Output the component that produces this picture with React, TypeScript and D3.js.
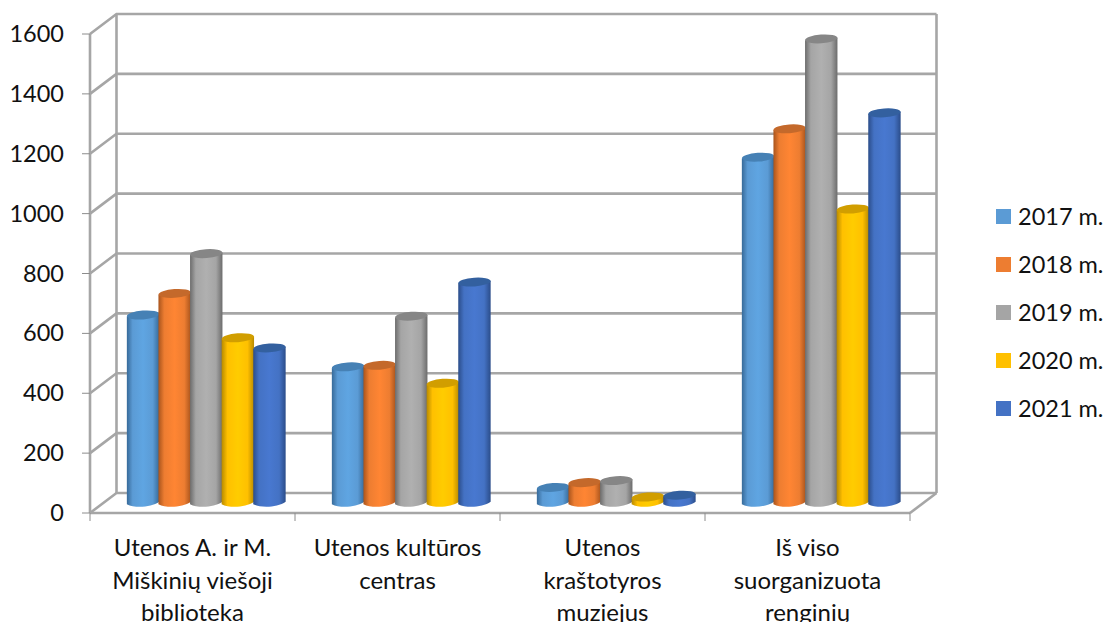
import React from "react";
import * as d3 from "d3";

const categories = [
  ["Utenos A. ir M.", "Miškinių viešoji", "biblioteka"],
  ["Utenos kultūros", "centras"],
  ["Utenos", "kraštotyros", "muziejus"],
  ["Iš viso", "suorganizuota", "renginių"],
];
const groupKeys = ["a", "b", "c", "d"];
const years = ["2017 m.", "2018 m.", "2019 m.", "2020 m.", "2021 m."];
const s2017 = [628, 455, 52, 1155];
const s2018 = [700, 460, 68, 1250];
const s2019 = [833, 624, 75, 1550];
const s2020 = [552, 400, 20, 982];
const s2021 = [518, 738, 26, 1303];
const seriesValues = [s2017, s2018, s2019, s2020, s2021];
const yTicks = [0, 200, 400, 600, 800, 1000, 1200, 1400, 1600];
const colors = ["#5B9BD5", "#ED7D31", "#A5A5A5", "#FFC000", "#4472C4"];
const lights = ["#5FA5E2", "#FF8533", "#B0B0B0", "#FFCC00", "#4878D0"];
const darks = ["#376A99", "#A9541C", "#6C6C6C", "#B88A00", "#2B4D8A"];
const tops = ["#4681B5", "#C4692B", "#868686", "#D19E00", "#33609F"];

const W = 1108, H = 622;
const y = d3.scaleLinear().domain([0, 1600]).range([513, 34]);
const x0 = d3.scaleBand<string>().domain(groupKeys).range([90, 910]);
const x1 = d3.scaleBand<string>().domain(years).range([-79, 79]);
const DX = 26.5, DY = -20;
const GRID = "#A6A6A6";
const FONT = "Lato, Carlito, sans-serif";

function cylinder(cx: number, v: number, i: number) {
  const rx = x1.bandwidth() / 2 + 0.4;
  const base = y(0) + DY / 2;
  const top = y(v) + DY / 2;
  const ry = 4.4;
  const tilt = 1.2;
  const body = d3.path();
  body.moveTo(cx - rx, top + tilt);
  body.lineTo(cx - rx, base + tilt);
  body.bezierCurveTo(cx - rx / 2, base + ry + 1, cx + rx / 2, base + ry, cx + rx, base - tilt);
  body.lineTo(cx + rx, top - tilt);
  body.closePath();
  return (
    <g key={i}>
      <path d={body.toString()} fill={`url(#cyl${i})`} />
      <ellipse cx={cx} cy={top} rx={rx} ry={ry} fill={tops[i]} transform={`rotate(-4 ${cx} ${top})`} />
    </g>
  );
}

export default function App() {
  const frontL = x0.range()[0], frontR = x0.range()[1];
  return (
    <svg width={W} height={H} style={{ position: "absolute", left: 0, top: 0, background: "#fff" }} fontFamily={FONT}>
      <defs>
        {colors.map((c, i) => (
          <linearGradient key={c} id={`cyl${i}`} x1="0" x2="1" y1="0" y2="0">
            <stop offset="0" stopColor={darks[i]} />
            <stop offset="0.18" stopColor={c} />
            <stop offset="0.5" stopColor={lights[i]} />
            <stop offset="0.8" stopColor={c} />
            <stop offset="1" stopColor={darks[i]} />
          </linearGradient>
        ))}
      </defs>

      {/* walls and grid */}
      <g stroke={GRID} strokeWidth={2.6} fill="none">
        {yTicks.map((t) => (
          <path key={t} d={`M${frontL},${y(t)} L${frontL + DX},${y(t) + DY} L${frontR + DX},${y(t) + DY}`} />
        ))}
        <line x1={frontL + DX} x2={frontL + DX} y1={y(1600) + DY} y2={y(0) + DY} />
        <line x1={frontR + DX} x2={frontR + DX} y1={y(1600) + DY} y2={y(0) + DY} />
        <line x1={frontL} x2={frontL} y1={y(1600)} y2={y(0)} />
        <line x1={frontL} x2={frontR} y1={y(0)} y2={y(0)} />
        <line x1={frontR} x2={frontR + DX} y1={y(0)} y2={y(0) + DY} />
      </g>
      <g stroke="#8C8C8C" strokeWidth={1}>
        {yTicks.map((t) => (
          <line key={t} x1={frontL - 8} x2={frontL} y1={y(t)} y2={y(t)} />
        ))}
        {[...groupKeys.map((k) => x0(k) as number), frontR].map((px) => (
          <line key={px} x1={px} x2={px} y1={y(0)} y2={y(0) + 8} />
        ))}
      </g>

      {/* bars */}
      {groupKeys.map((k, g) => {
        const center = (x0(k) as number) + x0.bandwidth() / 2 + DX / 2 + 0.5;
        return (
          <g key={k}>
            {years.map((yr, i) =>
              cylinder(center + (x1(yr) as number) + x1.bandwidth() / 2, seriesValues[i][g], i)
            )}
          </g>
        );
      })}

      {/* y labels */}
      <g fontSize={23.5} fill="#111" textAnchor="end">
        {yTicks.map((t) => (
          <text key={t} x={64} y={y(t) + 8}>{t}</text>
        ))}
      </g>

      {/* category labels */}
      <g fontSize={24} fill="#111" textAnchor="middle">
        {categories.map((lines, g) => {
          const cx = (x0(groupKeys[g]) as number) + x0.bandwidth() / 2;
          return (
            <text key={g} x={cx}>
              {lines.map((l, j) => (
                <tspan key={j} x={cx} y={556 + j * 32.5}>{l}</tspan>
              ))}
            </text>
          );
        })}
      </g>

      {/* legend */}
      {years.map((yr, i) => (
        <g key={yr} transform={`translate(996,${209 + i * 48})`}>
          <rect width={15} height={15} fill={colors[i]} />
          <text x={22} y={16} fontSize={23.5} fill="#111">{yr}</text>
        </g>
      ))}
    </svg>
  );
}
